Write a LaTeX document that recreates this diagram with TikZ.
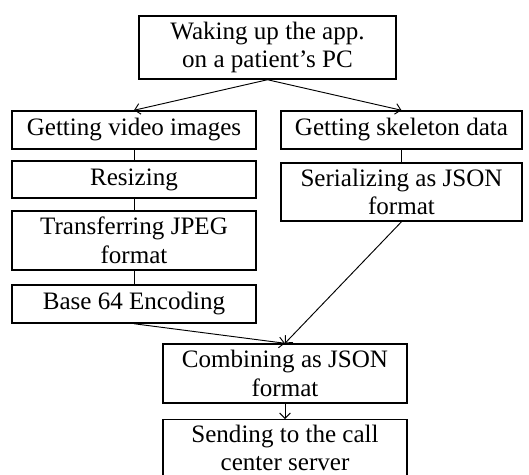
\documentclass[tikz,border=0pt]{standalone}
\usepackage{fontspec}
\setmainfont{Liberation Serif}
\usetikzlibrary{arrows.meta}
\tikzset{
  steptext/.style={align=center, font=\fontsize{18.8}{21.5}\selectfont},
  stepbox/.style={steptext, draw, line width=1.1pt, rectangle, inner sep=0pt},
  link/.style={line width=0.7pt},
  flow/.style={line width=0.7pt, -{Straight Barb[length=4pt,width=8pt,line width=0.7pt]}},
}
\begin{document}
\begin{tikzpicture}[x=0.75pt,y=-0.75pt]
  \useasboundingbox (0,0) rectangle (529,475);
  % process steps
  \node[stepbox, minimum width=257*0.75pt, minimum height=63*0.75pt] (wake) at (267.5,47.5)
       {Waking up the app.\\on a patient’s PC};
  \node[stepbox, minimum width=244*0.75pt, minimum height=38*0.75pt] (video) at (134,130)
       {Getting video images};
  \node[stepbox, minimum width=241*0.75pt, minimum height=38*0.75pt] (skel) at (401.5,130)
       {Getting skeleton data};
  \node[stepbox, minimum width=244*0.75pt, minimum height=37*0.75pt] (resize) at (134,179.5)
       {Resizing};
  \node[stepbox, minimum width=244*0.75pt, minimum height=59*0.75pt] (jpeg) at (134,240.5)
       {Transferring JPEG\\format};
  \node[stepbox, minimum width=244*0.75pt, minimum height=38*0.75pt] (b64) at (134,304)
       {Base 64 Encoding};
  \node[stepbox, minimum width=241*0.75pt, minimum height=58*0.75pt] (serial) at (401.5,192)
       {Serializing as JSON\\format};
  \node[stepbox, minimum width=244*0.75pt, minimum height=59*0.75pt] (comb) at (285,373.5)
       {Combining as JSON\\format};
  % last step: its frame runs past the lower edge of the page
  \node[stepbox, minimum width=244*0.75pt, minimum height=62*0.75pt, anchor=north] (send) at (285,419)
       {};
  \node[steptext] (sendtxt) at (285,448)
       {Sending to the call\\center server};
  % connectors
  \draw[flow] (wake.south) -- (video.north);
  \draw[flow] (wake.south) -- (skel.north);
  \draw[link] (video) -- (resize);
  \draw[link] (resize) -- (jpeg);
  \draw[link] (jpeg) -- (b64);
  \draw[link] (skel) -- (serial);
  \draw[flow] (b64.south) -- (comb.north);
  \draw[flow] (serial.south) -- (comb.north);
  \draw[flow] (comb.south) -- (send.north);
\end{tikzpicture}
\end{document}
